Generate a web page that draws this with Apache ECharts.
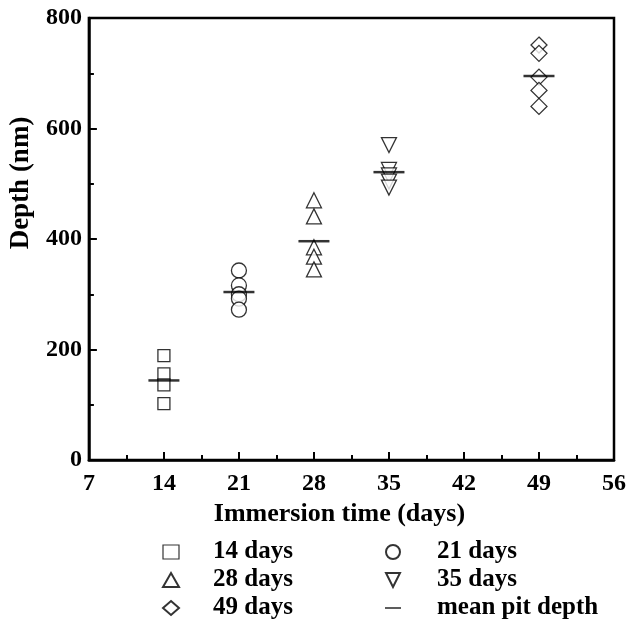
<!DOCTYPE html>
<html>
<head>
<meta charset="utf-8">
<script src="https://cdn.jsdelivr.net/npm/echarts@6/dist/echarts.min.js"></script>
<style>
  html, body { margin: 0; padding: 0; background: #fff; }
  #chart { width: 629px; height: 636px; }
</style>
</head>
<body>
<div id="chart"></div>
<script>
// Pit depth measurements (nm) grouped by immersion time (days)
const days14 = [189, 156, 136, 102];
const days21 = [343, 316, 300, 292, 272];
const days28 = [470, 441, 385, 368, 345];
const days35 = [570, 525, 515, 504, 493];
const days49 = [751, 736, 693, 669, 640];
const meanDepth = [[14, 144], [21, 304], [28, 396], [35, 521], [49, 695]];

const xTicks = [7, 14, 21, 28, 35, 42, 49, 56];
const yTicks = [0, 200, 400, 600, 800];

const FONT = '"Liberation Serif", "Times New Roman", serif';

const pairs = (x, arr) => arr.map(v => [x, v]);

const openStyle = { color: '#fff', borderColor: '#000', borderWidth: 1.3 };

const legendText = pad => ({
  fontFamily: FONT, fontWeight: 'bold', fontSize: 25, lineHeight: 28,
  color: '#000', padding: [0, 0, 0, pad]
});

const chart = echarts.init(document.getElementById('chart'));
chart.setOption({
  animation: false,
  backgroundColor: '#fff',
  grid: {
    left: 88, right: 15, top: 18, bottom: 176,
    show: true, borderColor: '#000', borderWidth: 2.5, backgroundColor: 'transparent'
  },
  xAxis: {
    type: 'value',
    min: xTicks[0], max: xTicks[xTicks.length - 1], interval: 7,
    name: 'Immersion time (days)',
    nameLocation: 'middle', nameGap: 40,
    nameTextStyle: { fontFamily: FONT, fontWeight: 'bold', fontSize: 26, color: '#000', padding: [0, 24, 0, 0] },
    axisLine: { show: true, onZero: false, lineStyle: { color: '#000', width: 2.5 } },
    axisTick: { show: true, inside: true, length: 8, lineStyle: { color: '#000', width: 2 } },
    minorTick: { show: true, splitNumber: 2, length: 5, lineStyle: { color: '#000', width: 2 } },
    splitLine: { show: false },
    axisLabel: { margin: 12, fontFamily: FONT, fontWeight: 'bold', fontSize: 24, color: '#000' }
  },
  yAxis: {
    type: 'value',
    min: yTicks[0], max: yTicks[yTicks.length - 1], interval: 200,
    name: 'Depth (nm)',
    nameLocation: 'middle', nameGap: 40, nameRotate: 90,
    nameTextStyle: { fontFamily: FONT, fontWeight: 'bold', fontSize: 27, color: '#000', padding: [0, 0, 0, 112] },
    axisLine: { show: true, lineStyle: { color: '#000', width: 2.5 } },
    axisTick: { show: true, inside: true, length: 8, lineStyle: { color: '#000', width: 2 } },
    minorTick: { show: true, splitNumber: 2, length: 5, lineStyle: { color: '#000', width: 2 } },
    splitLine: { show: false },
    axisLabel: { margin: 7, fontFamily: FONT, fontWeight: 'bold', fontSize: 24, color: '#000' }
  },
  legend: [
    {
      left: 157, top: 533, orient: 'vertical', itemGap: 0,
      itemWidth: 16, itemHeight: 14,
      textStyle: legendText(29),
      data: [
        { name: '14 days', icon: 'rect', itemStyle: { color: '#fff', borderColor: '#000', borderWidth: 1.2 } },
        { name: '28 days' },
        { name: '49 days' }
      ]
    },
    {
      left: 380, top: 533, orient: 'vertical', itemGap: 0,
      itemWidth: 16, itemHeight: 14,
      textStyle: legendText(31),
      data: [
        { name: '21 days' },
        { name: '35 days', icon: 'path://M0,0L10,0L5,10Z' },
        { name: 'mean pit depth', icon: 'path://M0,0H10V1H0Z' }
      ]
    }
  ],
  series: [
    { name: '14 days', type: 'scatter', symbol: 'rect', symbolSize: 12, itemStyle: openStyle, data: pairs(14, days14) },
    { name: '21 days', type: 'scatter', symbol: 'circle', symbolSize: 15, itemStyle: openStyle, data: pairs(21, days21) },
    { name: '28 days', type: 'scatter', symbol: 'triangle', symbolSize: 15, itemStyle: openStyle, data: pairs(28, days28) },
    { name: '35 days', type: 'scatter', symbol: 'triangle', symbolRotate: 180, symbolSize: 15, itemStyle: openStyle, data: pairs(35, days35) },
    { name: '49 days', type: 'scatter', symbol: 'diamond', symbolSize: 16, itemStyle: openStyle, data: pairs(49, days49) },
    { name: 'mean pit depth', type: 'scatter', symbol: 'rect', symbolSize: [31, 2.5], z: 5,
      itemStyle: { color: '#000' }, data: meanDepth }
  ]
});
</script>
</body>
</html>
